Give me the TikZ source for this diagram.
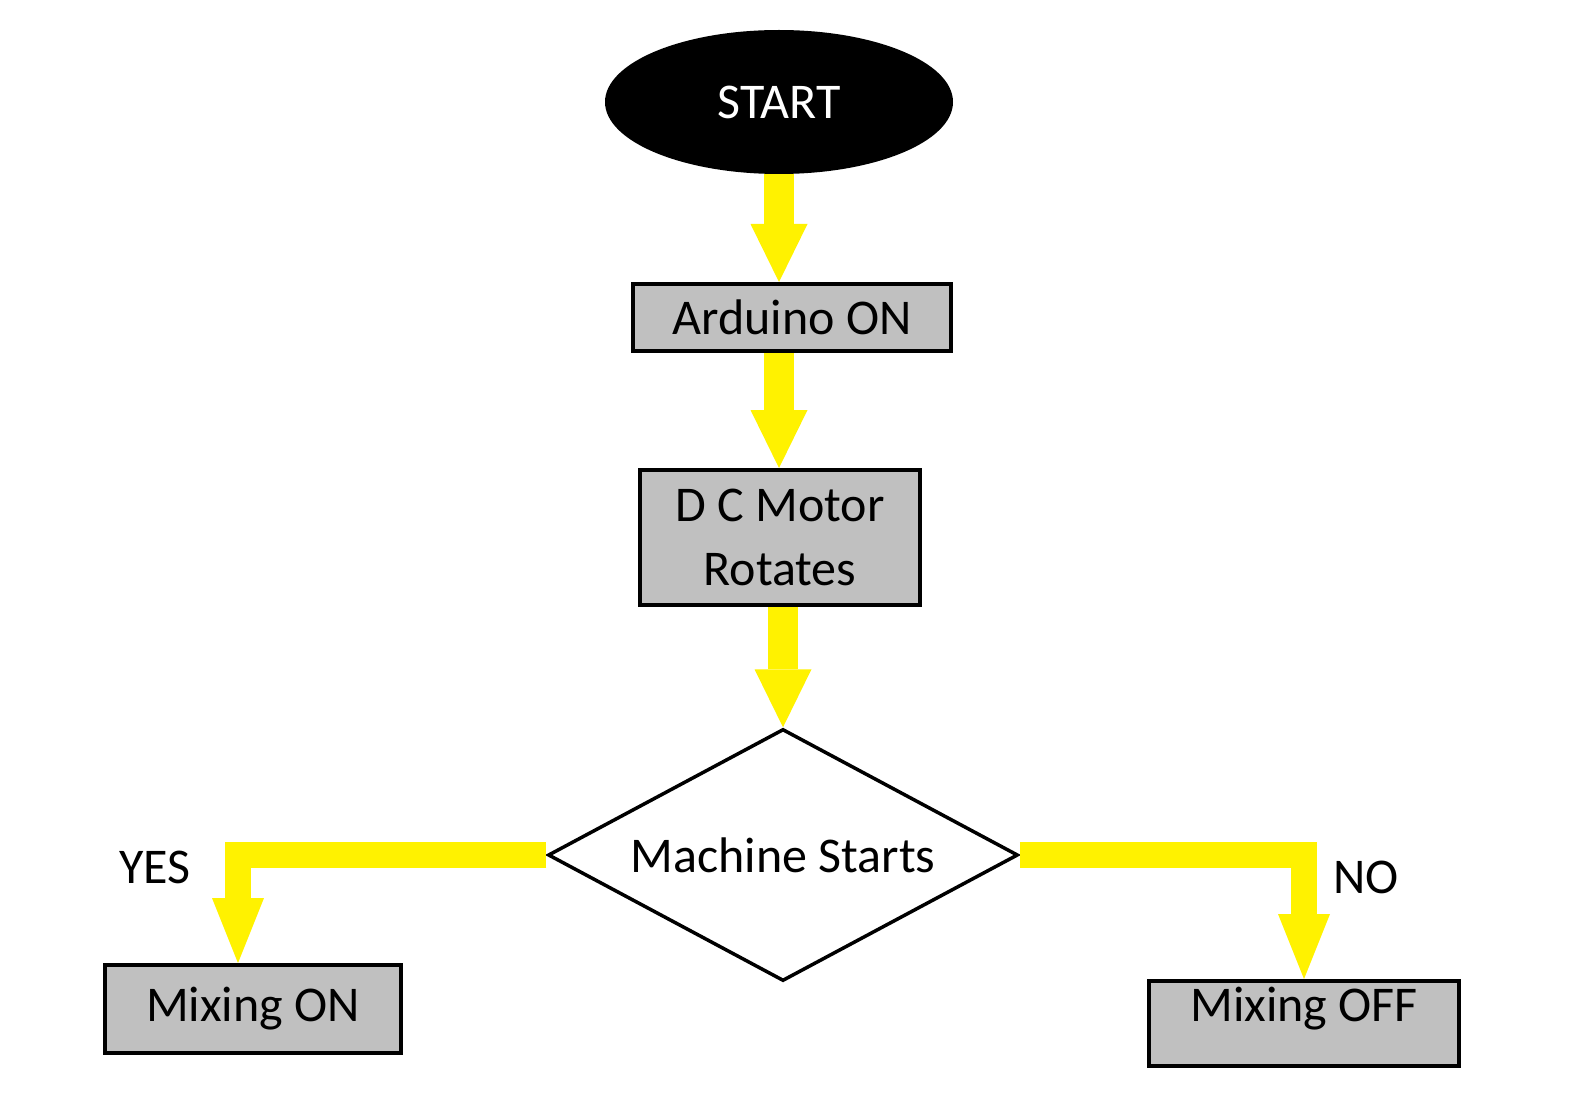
\documentclass[tikz,border=0pt]{standalone}
\usepackage{fontspec}
\setmainfont{Carlito}
\usepackage{tikz}
\usetikzlibrary{shapes.geometric,arrows.meta}
\definecolor{flowyellow}{RGB}{255,242,0}
\definecolor{boxgray}{RGB}{192,192,192}

\begin{document}
\begin{tikzpicture}[x=1pt,y=-1pt,
    every node/.style={font=\fontsize{50}{64}\selectfont},
    process/.style={rectangle,draw=black,line width=4pt,fill=boxgray,inner sep=0pt},
    flow/.style={flowyellow,line width=30pt,
        -{Triangle[length=58pt,width=57pt,line width=0pt]}},
    branch/.style={flowyellow,line width=26pt,line join=miter,
        -{Triangle[length=65pt,width=52pt,line width=0pt]}}]

    % Frame
    \path[use as bounding box,fill=white] (0,0) rectangle (1579,1099);

    % Draw the nodes
    \node [ellipse,fill=black,text=white,inner sep=0pt,
           minimum width=348pt,minimum height=144pt] (start) at (779,102) {START};
    \node [process,minimum width=318pt,minimum height=67pt] (arduino) at (792,317.5) {Arduino ON};
    \node [process,align=center,minimum width=280pt,minimum height=135pt] (dcmotor) at (780,537.5) {D C Motor\\Rotates};
    \node [diamond,aspect=1.87,draw=black,line width=3.5pt,inner sep=0pt,
           minimum width=470pt,minimum height=252pt] (machine) at (783,855) {Machine Starts};
    \node [process,minimum width=296pt,minimum height=88pt] (mixon) at (253,1009) {Mixing ON};
    \node [process,text height=36pt,text depth=40pt,
           minimum width=310pt,minimum height=85pt] (mixoff) at (1304,1023.5) {Mixing OFF};

    % Draw the labels
    \node (yes) at (155,867) {YES};
    \node (no) at (1366,877) {NO};

    % Draw the arrows
    \draw [flow] (start.south) -- (start.south |- arduino.north);
    \draw [flow] (start.south |- arduino.south) -- (start.south |- dcmotor.north);
    \draw [flow] (machine.north |- dcmotor.south) -- (machine.north);
    \draw [branch] (machine.west) -| ([xshift=-15pt]mixon.north);
    \draw [branch] (machine.east) -| (mixoff.north);

\end{tikzpicture}
\end{document}
